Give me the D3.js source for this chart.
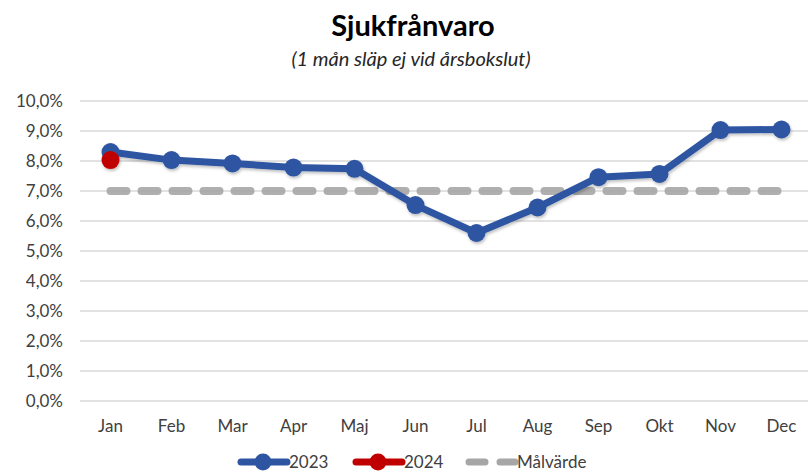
<!DOCTYPE html>
<html>
<head>
<meta charset="utf-8">
<script src="https://cdn.jsdelivr.net/npm/d3@7"></script>
<style>
  body { margin: 0; background: #fff; }
  text { font-family: Lato, "Open Sans", sans-serif; }
</style>
</head>
<body>
<div id="chart"></div>
<script>
const width = 808;
const height = 476;

const months = ["Jan", "Feb", "Mar", "Apr", "Maj", "Jun", "Jul", "Aug", "Sep", "Okt", "Nov", "Dec"];
const values2023 = [8.3, 8.03, 7.92, 7.78, 7.74, 6.53, 5.6, 6.45, 7.46, 7.57, 9.03, 9.05];
const values2024 = [8.03];
const target = [7, 7, 7, 7, 7, 7, 7, 7, 7, 7, 7, 7];
const yTicks = [0, 1, 2, 3, 4, 5, 6, 7, 8, 9, 10];

const blue = "#2E55A1";
const red = "#C00000";
const grey = "#A6A6A6";

const svg = d3.select("#chart")
    .append("svg")
    .attr("width", width)
    .attr("height", height);

const defs = svg.append("defs");
const shadow = defs.append("filter").attr("id", "shadow")
    .attr("x", "-20%").attr("y", "-20%").attr("width", "140%").attr("height", "140%");
shadow.append("feDropShadow")
    .attr("dx", 1).attr("dy", 2).attr("stdDeviation", 1.5)
    .attr("flood-color", "#000").attr("flood-opacity", 0.25);

const x = d3.scaleBand()
    .domain(months)
    .range([80, 812]);

const y = d3.scaleLinear()
    .domain([0, 10])
    .range([401, 101]);

const fmt = d => d3.format(".1f")(d).replace(".", ",") + "%";

// gridlines
svg.append("g")
    .selectAll("line")
    .data(yTicks)
    .enter()
    .append("line")
    .attr("x1", 80)
    .attr("x2", 808)
    .attr("y1", d => y(d))
    .attr("y2", d => y(d))
    .attr("stroke", "#D9D9D9")
    .attr("stroke-width", 1.3);

// y axis labels
const yAxis = d3.axisLeft(y)
    .tickValues(yTicks)
    .tickSize(0)
    .tickPadding(0)
    .tickFormat(fmt);

svg.append("g")
    .attr("transform", "translate(63,0)")
    .call(yAxis)
    .call(g => g.select(".domain").remove())
    .call(g => g.selectAll("text")
        .attr("fill", "#404040")
        .style("font-size", "17px"));

// x axis labels
const xAxis = d3.axisBottom(x).tickSize(0).tickPadding(0);
svg.append("g")
    .attr("transform", "translate(0,420)")
    .call(xAxis)
    .call(g => g.select(".domain").remove())
    .call(g => g.selectAll("text")
        .attr("fill", "#404040")
        .style("font-size", "17px"));

const cx = d => x(d) + x.bandwidth() / 2;

// target line
svg.append("path")
    .datum(target)
    .attr("fill", "none")
    .attr("stroke", grey)
    .attr("stroke-width", 8)
    .attr("stroke-linecap", "round")
    .attr("stroke-dasharray", "16 15")
    .attr("opacity", 0.9)
    .attr("d", d3.line()
        .x((d, i) => cx(months[i]))
        .y(d => y(d)));

// 2023 line
const g2023 = svg.append("g").attr("filter", "url(#shadow)");
g2023.append("path")
    .datum(values2023)
    .attr("fill", "none")
    .attr("stroke", blue)
    .attr("stroke-width", 7)
    .attr("stroke-linejoin", "round")
    .attr("d", d3.line()
        .x((d, i) => cx(months[i]))
        .y(d => y(d)));

g2023.selectAll("circle")
    .data(values2023)
    .enter()
    .append("circle")
    .attr("cx", (d, i) => cx(months[i]))
    .attr("cy", d => y(d))
    .attr("r", 9)
    .attr("fill", blue);

// 2024
svg.append("g").attr("filter", "url(#shadow)")
    .selectAll("circle")
    .data(values2024)
    .enter()
    .append("circle")
    .attr("cx", (d, i) => cx(months[i]))
    .attr("cy", d => y(d))
    .attr("r", 9)
    .attr("fill", red);

// titles
svg.append("text")
    .attr("x", 413)
    .attr("y", 36)
    .attr("text-anchor", "middle")
    .style("font-size", "29px")
    .style("font-weight", "bold")
    .attr("fill", "#000")
    .text("Sjukfrånvaro");

svg.append("text")
    .attr("x", 411)
    .attr("y", 66)
    .attr("text-anchor", "middle")
    .style("font-size", "20px")
    .style("font-style", "italic")
    .attr("fill", "#262626")
    .text("(1 mån släp ej vid årsbokslut)");

// legend
const legendItems = [
    { label: "2023", color: blue, x: 238, dashed: false },
    { label: "2024", color: red, x: 353, dashed: false },
    { label: "Målvärde", color: grey, x: 466, dashed: true }
];
const ly = 462;
const legend = svg.append("g");
legendItems.forEach(it => {
    const g = legend.append("g");
    g.append("line")
        .attr("x1", it.x + 3)
        .attr("x2", it.x + 49)
        .attr("y1", ly)
        .attr("y2", ly)
        .attr("stroke", it.color)
        .attr("stroke-width", 7)
        .attr("stroke-linecap", "round")
        .attr("stroke-dasharray", it.dashed ? "16 15" : null);
    if (!it.dashed) {
        g.append("circle")
            .attr("cx", it.x + 25)
            .attr("cy", ly)
            .attr("r", 8.5)
            .attr("fill", it.color);
    }
    g.append("text")
        .attr("x", it.x + 51)
        .attr("y", ly + 6)
        .attr("fill", "#404040")
        .style("font-size", "17px")
        .text(it.label);
});
</script>
</body>
</html>
